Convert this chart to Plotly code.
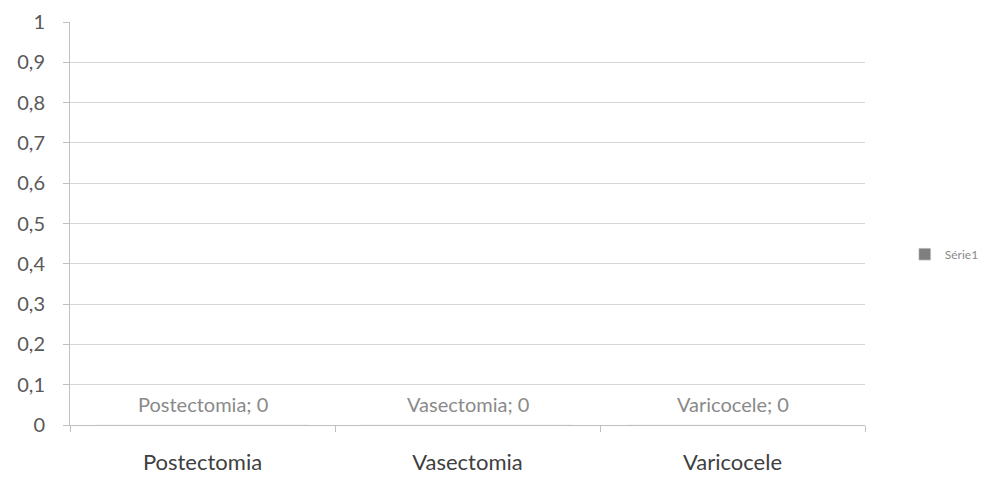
import plotly.graph_objects as go

categories = ["Postectomia", "Vasectomia", "Varicocele"]
values = [0, 0, 0]
series_name = "Série1"
y_tickvals = [0, 0.1, 0.2, 0.3, 0.4, 0.5, 0.6, 0.7, 0.8, 0.9, 1]
y_ticktext = ["0", "0,1", "0,2", "0,3", "0,4", "0,5", "0,6", "0,7", "0,8", "0,9", "1"]

font_family = "Lato, Open Sans, sans-serif"
text_gray = "#595959"

fig = go.Figure()
fig.add_trace(go.Bar(
    x=categories, y=values, name=series_name,
    marker=dict(color="#7f7f7f"),
    showlegend=True,
))

for c, v in zip(categories, values):
    fig.add_annotation(
        x=c, y=v, text=f"{c}; {v}", showarrow=False,
        yshift=21, font=dict(family=font_family, size=20, color="#8a8a8a"),
    )

fig.update_layout(
    width=971, height=466,
    margin=dict(l=62, r=114, t=14, b=49, autoexpand=False),
    paper_bgcolor="white", plot_bgcolor="white",
    font=dict(family=font_family, color=text_gray),
    legend=dict(x=1.05, y=0.424, xanchor="left", yanchor="middle",
                font=dict(size=12, color="#8a8a8a"), itemwidth=30),
    xaxis=dict(
        type="category", showgrid=False, showline=True, linecolor="#bfbfbf",
        ticks="outside", tickson="boundaries", ticklen=6, tickcolor="#bfbfbf",
        ticklabelstandoff=18, automargin=False,
        tickfont=dict(size=22, color="#404040"), zeroline=False,
    ),
    yaxis=dict(
        range=[0, 1], tickvals=y_tickvals, ticktext=y_ticktext,
        showgrid=True, gridcolor="#d6d6d6", gridwidth=1,
        showline=True, linecolor="#bfbfbf", ticks="outside", ticklen=6,
        ticklabelstandoff=14, automargin=False,
        tickcolor="#bfbfbf", tickfont=dict(size=20, color=text_gray),
        zeroline=False,
    ),
)

fig.write_html("out.html")
